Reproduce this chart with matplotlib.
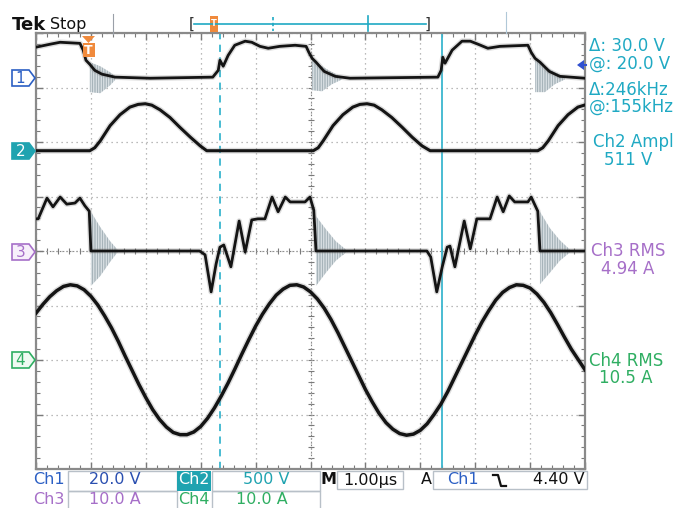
import numpy as np
import matplotlib
matplotlib.use('Agg')
import matplotlib.pyplot as plt
from matplotlib.patches import Polygon, Rectangle

plt.rcParams['font.family'] = ['DejaVu Sans']
plt.rcParams['hatch.linewidth'] = 0.5

# ---------------- data (time in us, values in channel units) ----------------
ch1_t = [0, 0.26, 0.44, 0.80, 0.86, 0.91, 0.98, 1.07, 1.20, 1.44, 2.08, 3.22, 3.32, 3.35, 3.41, 3.50,
         3.62, 3.81, 3.93, 4.08, 4.23, 4.44, 4.72, 4.92, 4.97, 5.03, 5.10, 5.25, 5.45, 5.72, 7.32, 7.38,
         7.41, 7.45, 7.58, 7.76, 7.91, 8.05, 8.23, 8.45, 8.96, 9.02, 9.09, 9.18, 9.35, 9.54, 10.0]
ch1_v = [11.4, 12.5, 13.2, 12.8, 10.3, 6.6, 5.1, 2.9, 1.5, 0.4, 0.0, 0.4, 2.9, 6.6, 4.4, 8.4,
         12.1, 13.6, 13.2, 11.7, 11.0, 11.7, 12.1, 11.7, 9.5, 7.3, 5.9, 2.5, 0.7, 0.0, 0.4, 2.9,
         7.7, 5.5, 10.3, 13.6, 13.6, 12.5, 11.0, 11.7, 12.1, 9.5, 7.3, 5.9, 2.5, 0.7, 0.0]

ch2_t = [0, 0.98, 1.07, 1.17, 1.35, 1.53, 1.71, 1.86, 1.99, 2.11, 2.26, 2.44, 2.62, 2.81, 2.99, 3.11,
         5.05, 5.14, 5.23, 5.41, 5.59, 5.77, 5.90, 6.03, 6.16, 6.30, 6.48, 6.67, 6.85, 7.03, 7.18,
         9.14, 9.23, 9.33, 9.51, 9.69, 9.87, 10.0]
ch2_v = [0, 0, 27, 90, 230, 330, 400, 425, 431, 418, 375, 305, 215, 125, 45, 0,
         0, 27, 90, 230, 330, 400, 425, 431, 418, 375, 305, 215, 125, 45, 0,
         0, 27, 90, 230, 330, 400, 420]

ch3_t = [0, 0.04, 0.20, 0.31, 0.44, 0.56, 0.71, 0.80, 0.89, 0.97, 1.00, 2.98, 3.08, 3.19, 3.28, 3.35,
         3.42, 3.55, 3.70, 3.81, 3.93, 4.04, 4.17, 4.30, 4.41, 4.54, 4.63, 4.90, 4.99, 5.06, 5.10,
         7.12, 7.19, 7.30, 7.40, 7.49, 7.54, 7.63, 7.80, 7.91, 8.03, 8.27, 8.40, 8.51, 8.62, 8.72,
         8.96, 9.02, 9.14, 9.18, 10.0]
ch3_a = [5.9, 5.9, 9.7, 8.1, 9.9, 8.6, 8.8, 9.7, 8.3, 7.3, 0.0, 0.0, -0.7, -7.5, -2.4, 0.7,
         1.1, -2.9, 5.5, -0.2, 5.7, 5.9, 5.9, 9.9, 7.2, 9.9, 9.0, 9.0, 9.9, 7.5, 0.0,
         0.0, -1.1, -7.5, -2.9, 0.7, 0.9, -2.9, 5.5, 0.4, 5.9, 5.9, 9.9, 7.2, 10.1, 9.0,
         9.0, 9.9, 7.3, 0.0, 0.0]

ch4_t = [0, 0.125, 0.25, 0.375, 0.5, 0.625, 0.75, 0.875, 1.0, 1.125, 1.25, 1.375, 1.5, 1.625,
         1.75, 1.875, 2.0, 2.125, 2.25, 2.375, 2.5, 2.625, 2.75, 2.875, 3.0, 3.125, 3.25, 3.375,
         3.5, 3.625, 3.75, 3.875, 4.0, 4.125, 4.25, 4.375, 4.5, 4.625, 4.75, 4.875, 5.0, 5.125,
         5.25, 5.375, 5.5, 5.625, 5.75, 5.875, 6.0, 6.125, 6.25, 6.375, 6.5, 6.625, 6.75, 6.875,
         7.0, 7.125, 7.25, 7.375, 7.5, 7.625, 7.75, 7.875, 8.0, 8.125, 8.25, 8.375, 8.5, 8.625,
         8.75, 8.875, 9.0, 9.125, 9.25, 9.375, 9.5, 9.625, 9.75, 9.875, 10.0]
ch4_a = [8.6, 10.2, 11.6, 12.7, 13.5, 13.8, 13.6, 12.9, 11.7, 10.1, 8.1, 5.9, 3.4, 0.7,
         -1.9, -4.5, -6.9, -9.1, -10.9, -12.3, -13.3, -13.7, -13.7, -13.2, -12.2, -10.7, -8.8, -6.6,
         -4.2, -1.6, 1.1, 3.7, 6.2, 8.4, 10.3, 11.9, 13.0, 13.7, 13.8, 13.4, 12.5, 11.2,
         9.5, 7.4, 5.0, 2.4, -0.2, -2.8, -5.4, -7.7, -9.8, -11.5, -12.7, -13.5, -13.8, -13.6,
         -12.9, -11.7, -10.0, -8.1, -5.8, -3.2, -0.6, 2.0, 4.6, 7.0, 9.1, 11.0, 12.4, 13.3,
         13.8, 13.7, 13.2, 12.1, 10.6, 8.7, 6.5, 4.2, 2.0, 0.1, -1.8]

# ringing bursts after each switching edge: time, upper and lower envelope
ch1_ring_t = [[0.98, 1.17, 1.35, 1.44], [5.03, 5.21, 5.39, 5.57], [9.09, 9.27, 9.45, 9.63]]
ch1_ring_hi = [[5.9, 4.4, 2.2, 0.7], [6.6, 4.4, 2.2, 0.5], [7.0, 4.4, 2.2, 0.5]]
ch1_ring_lo = [[-5.1, -5.5, -2.6, -0.7], [-4.4, -4.8, -2.2, -0.5], [-5.1, -5.1, -2.2, -0.5]]
ch3_ring_t = [[1.00, 1.17, 1.35, 1.48], [5.10, 5.28, 5.46, 5.64], [9.18, 9.36, 9.54, 9.72]]
ch3_ring_hi = [[7.2, 4.4, 1.8, 0.3], [6.4, 4.0, 1.8, 0.3], [7.2, 4.2, 2.0, 0.3]]
ch3_ring_lo = [[-6.4, -4.6, -2.0, -0.3], [-6.4, -4.0, -1.8, -0.3], [-6.1, -4.0, -1.8, -0.3]]

cursor_t = [3.35, 7.40]          # cursor times (us)
ch_scale = {1: 20.0, 2: 500.0, 3: 10.0, 4: 10.0}
ch_pos = {1: 3.17, 2: 1.84, 3: 0.0, 4: -2.0}

readouts_right = ['\u0394: 30.0 V', '@: 20.0 V', '\u0394:246kHz', '@:155kHz']
meas_labels = ['Ch2 Ampl', '511 V', 'Ch3 RMS', '4.94 A', 'Ch4 RMS', '10.5 A']

# ---------------- colours ----------------
CYAN = '#1fa9c3'
BLUE = '#2b5fc4'
TEAL = '#1fa3b0'
PURP = '#a66fc8'
GREEN = '#2fae62'
ORANGE = '#f08a3c'
GRID = '#a4a4a4'

W, H = 680, 508
L, R, T, B = 36, 585, 33, 469

fig = plt.figure(figsize=(W / 100, H / 100), dpi=100)
fig.patch.set_facecolor('white')
ax = fig.add_axes([L / W, 1 - B / H, (R - L) / W, (B - T) / H])
ax.set_xlim(0, 10)
ax.set_ylim(-4, 4)

# graticule
ax.set_xticks(np.arange(0, 11, 1))
ax.set_yticks(np.arange(-4, 5, 1))
ax.set_xticks(np.arange(0, 10.01, 0.2), minor=True)
ax.set_yticks(np.arange(-4, 4.01, 0.2), minor=True)
ax.tick_params(which='both', direction='in', top=True, right=True, labelbottom=False,
               labelleft=False, color='#7a7a7a')
ax.tick_params(which='major', length=5, width=1)
ax.tick_params(which='minor', length=3, width=0.8)
ax.grid(True, which='major', color=GRID, linestyle=(0, (1, 3)), linewidth=0.9)
for s in ax.spines.values():
    s.set_color('#8a8a8a')
    s.set_linewidth(1.6)
# centre cross with ticks
cx = np.arange(0, 10.01, 0.2)
cy = np.arange(-4, 4.01, 0.2)
ax.plot(cx, np.zeros_like(cx), ls='none', marker='|', ms=5, mew=0.8, color='#7a7a7a', zorder=1)
ax.plot(np.full_like(cy, 5.0), cy, ls='none', marker='_', ms=5, mew=0.8, color='#7a7a7a', zorder=1)
ax.axhline(0, color='#7a7a7a', lw=0.8, ls=(0, (1, 2)), zorder=1)
ax.axvline(5, color='#7a7a7a', lw=0.8, ls=(0, (1, 2)), zorder=1)

# cursors
ax.axvline(cursor_t[0], color='#3ab6cf', lw=1.3, ls=(0, (4, 3)), zorder=2)
ax.axvline(cursor_t[1], color='#3ab6cf', lw=1.3, zorder=2)


def scaled(v, ch):
    return np.asarray(v, dtype=float) / ch_scale[ch] + ch_pos[ch]


def ringing(ts, his, los, ch):
    for t, hi, lo in zip(ts, his, los):
        ax.fill_between(t, scaled(lo, ch), scaled(hi, ch), facecolor='#e6ebed',
                        edgecolor='#8c9ca5', hatch='|' * 10, linewidth=0, zorder=3)


def trace(t, v, ch, lw=2.2):
    y = scaled(v, ch)
    ax.plot(t, y, color='#8f8f8f', lw=lw + 2.0, alpha=0.3, solid_capstyle='round',
            solid_joinstyle='round', zorder=4)
    ax.plot(t, y, color='#141414', lw=lw, solid_joinstyle='round', zorder=5)


ringing(ch1_ring_t, ch1_ring_hi, ch1_ring_lo, 1)
ringing(ch3_ring_t, ch3_ring_hi, ch3_ring_lo, 3)
trace(ch1_t, ch1_v, 1, 2.0)
trace(ch2_t, ch2_v, 2, 2.2)
trace(ch3_t, ch3_a, 3, 2.0)
trace(ch4_t, ch4_a, 4, 2.5)

# ---------------- overlay (screen furniture) ----------------
ov = fig.add_axes([0, 0, 1, 1], zorder=5)
ov.set_xlim(0, W)
ov.set_ylim(H, 0)
ov.axis('off')
ov.patch.set_alpha(0)

ov.text(12, 25, 'Tek', fontsize=13, fontweight='bold', va='center', ha='left', color='#111111')
ov.text(50, 24, 'Stop', fontsize=11.5, va='center', ha='left', color='#111111')
ov.plot([113, 113], [14, 34], color='#9aa0a8', lw=0.8)
ov.plot([506, 506], [12, 33], color='#b0c8d8', lw=0.8)

# record bar
ov.text(192, 24, '[', fontsize=11, va='center', ha='center', color='#333333')
ov.text(428, 24, ']', fontsize=11, va='center', ha='center', color='#333333')
ov.plot([194, 426], [24, 24], color=CYAN, lw=1.2)
ov.plot([273, 273], [17, 31], color=CYAN, lw=1.2, ls=(0, (2, 1.5)))
ov.plot([368, 368], [16, 31], color=CYAN, lw=1.2)
ov.add_patch(Rectangle((210, 16), 8, 16, facecolor=ORANGE, edgecolor='none'))
ov.text(214, 24, 'T', fontsize=6, color='white', ha='center', va='center', fontweight='bold')

# trigger marker
ov.add_patch(Polygon([(82, 36), (95, 36), (88.5, 43)], closed=True, facecolor=ORANGE, edgecolor='none'))
ov.add_patch(Rectangle((82.5, 43), 12, 14, facecolor=ORANGE, edgecolor='none'))
ov.text(88.5, 50.5, 'T', fontsize=9, color='white', ha='center', va='center', fontweight='bold')
# trigger level arrow (right)
ov.add_patch(Polygon([(577, 65), (584, 60), (584, 70)], closed=True, facecolor='#3050d0', edgecolor='none'))
ov.plot([580, 586], [65, 65], color='#3050d0', lw=1.5)

# channel markers
markers = [('1', 78, 'white', BLUE, BLUE), ('2', 151, TEAL, TEAL, 'white'),
           ('3', 252, '#f7f0fb', PURP, PURP), ('4', 360, '#effaf2', GREEN, GREEN)]
for lab, yc, fc, ec, tc in markers:
    ov.add_patch(Polygon([(12, yc - 8), (29, yc - 8), (35, yc), (29, yc + 8), (12, yc + 8)],
                         closed=True, facecolor=fc, edgecolor=ec, lw=1.2))
    ov.text(20.5, yc + 0.5, lab, fontsize=11, color=tc, ha='center', va='center')

# right readouts
for txt, yc in zip(readouts_right, [46, 64, 90, 107]):
    ov.text(589, yc, txt, fontsize=12, color=CYAN, ha='left', va='center')
meas_pos = [(633, 142, CYAN), (628, 160, CYAN), (628, 251, PURP), (628, 269, PURP),
            (626, 361, GREEN), (626, 378, GREEN)]
for txt, (xc, yc, c) in zip(meas_labels, meas_pos):
    ov.text(xc, yc, txt, fontsize=12, color=c, ha='center', va='center')

# bottom status area
box_kw = dict(facecolor='none', edgecolor='#b8c0c8', lw=1.0)
ov.add_patch(Rectangle((68, 471), 109, 20, **box_kw))
ov.add_patch(Rectangle((212, 471), 108, 20, **box_kw))
ov.add_patch(Rectangle((68, 491), 109, 20, **box_kw))
ov.add_patch(Rectangle((212, 491), 108, 20, **box_kw))
ov.add_patch(Rectangle((177, 471), 34, 20, facecolor=TEAL, edgecolor='none'))
ov.add_patch(Rectangle((337, 471), 66, 18, **box_kw))
ov.add_patch(Rectangle((433, 471), 154, 18, **box_kw))

row1 = 480
row2 = 499
fs_b = 11.5
ov.text(33, row1, 'Ch1', fontsize=fs_b, color=BLUE, ha='left', va='center')
ov.text(115, row1, '20.0 V', fontsize=fs_b, color='#2a4fb0', ha='center', va='center')
ov.text(194, row1, 'Ch2', fontsize=fs_b, color='white', ha='center', va='center')
ov.text(266, row1, '500 V', fontsize=fs_b, color=TEAL, ha='center', va='center')
ov.text(329, row1, 'M', fontsize=fs_b, color='#111111', ha='center', va='center', fontweight='bold')
ov.text(370, row1, '1.00\u00b5s', fontsize=fs_b, color='#111111', ha='center', va='center')
ov.text(426, row1, 'A', fontsize=fs_b, color='#111111', ha='center', va='center')
ov.text(447, row1, 'Ch1', fontsize=fs_b, color=BLUE, ha='left', va='center')
ov.plot([493, 498, 501, 506], [475, 475, 486, 486], color='#111111', lw=1.6)
ov.text(585, row1, '4.40 V', fontsize=fs_b, color='#111111', ha='right', va='center')
ov.text(33, row2, 'Ch3', fontsize=fs_b, color=PURP, ha='left', va='center')
ov.text(115, row2, '10.0 A', fontsize=fs_b, color=PURP, ha='center', va='center')
ov.text(194, row2, 'Ch4', fontsize=fs_b, color=GREEN, ha='center', va='center')
ov.text(262, row2, '10.0 A', fontsize=fs_b, color=GREEN, ha='center', va='center')

fig.savefig('out.png', dpi=100, facecolor='white')
